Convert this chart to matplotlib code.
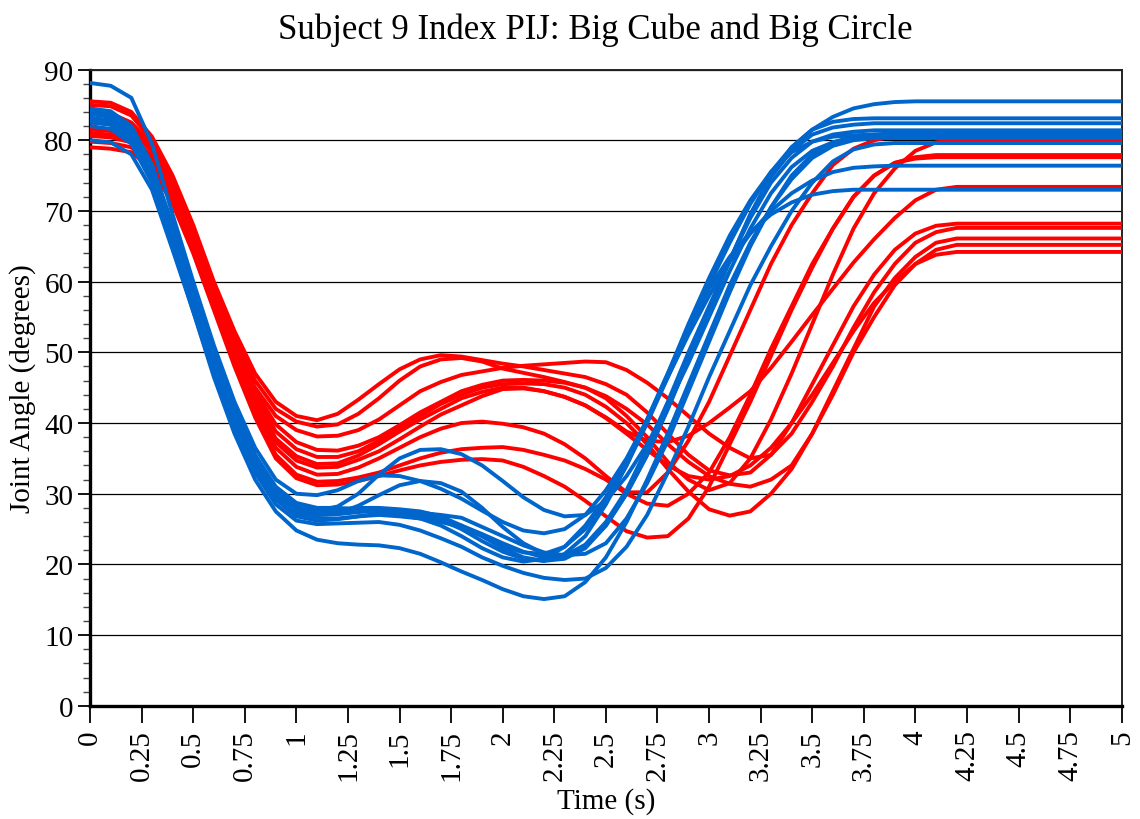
import matplotlib
matplotlib.use("Agg")
import matplotlib.pyplot as plt
from matplotlib.ticker import MultipleLocator

# ── data: joint angle (deg) every 0.1 s from 0 to 4.2 s, then the 5 s value ──
time_s = [0.0, 0.1, 0.2, 0.3, 0.4, 0.5, 0.6, 0.7, 0.8, 0.9,
          1.0, 1.1, 1.2, 1.3, 1.4, 1.5, 1.6, 1.7, 1.8, 1.9,
          2.0, 2.1, 2.2, 2.3, 2.4, 2.5, 2.6, 2.7, 2.8, 2.9,
          3.0, 3.1, 3.2, 3.3, 3.4, 3.5, 3.6, 3.7, 3.8, 3.9,
          4.0, 4.1, 4.2, 5.0]

# Big Cube trials (red)
cube_trials = [
    [85.5, 85.3, 84.0, 80.5, 75.0, 68.0, 60.0, 53.0, 47.0, 43.0,
     41.0, 40.4, 41.3, 43.3, 45.5, 47.6, 49.0, 49.6, 49.4, 48.9,
     48.4, 48.0, 47.5, 47.0, 46.5, 45.5, 44.0, 41.5, 38.5, 35.5,
     33.3, 32.6, 33.0, 35.5, 40.0, 45.5, 51.0, 56.5, 61.0, 64.5,
     66.8, 67.9, 68.2, 68.2],
    [85.0, 84.8, 83.5, 80.0, 74.5, 67.5, 59.5, 52.5, 46.0, 42.0,
     40.2, 39.5, 39.8, 41.3, 43.5, 46.0, 48.0, 49.0, 49.2, 48.7,
     47.7, 47.1, 46.5, 45.8, 45.0, 43.8, 42.0, 39.8, 37.0, 34.5,
     32.5, 31.4, 31.0, 32.0, 34.0, 38.5, 44.0, 50.0, 55.0, 59.5,
     62.5, 64.5, 65.2, 65.2],
    [84.0, 83.8, 82.5, 79.5, 74.0, 67.0, 59.0, 51.5, 45.0, 41.0,
     39.0, 38.1, 38.2, 39.0, 40.5, 42.5, 44.5, 45.8, 46.8, 47.3,
     47.8, 48.1, 48.3, 48.5, 48.7, 48.6, 47.5, 45.7, 43.5, 41.0,
     38.5, 36.5, 35.0, 35.5, 38.5, 43.0, 48.0, 53.5, 58.5, 62.5,
     65.5, 67.0, 67.6, 67.6],
    [83.0, 82.8, 81.8, 79.0, 73.5, 66.5, 58.5, 51.0, 44.5, 39.8,
     37.3, 36.2, 36.1, 36.8, 38.0, 39.7, 41.5, 43.0, 44.5, 45.4,
     46.0, 46.1, 46.0, 45.7, 45.0, 43.5, 41.0, 38.0, 34.5, 32.0,
     30.5, 31.5, 35.0, 40.5, 47.0, 54.0, 61.0, 67.5, 72.5, 76.0,
     78.5, 79.7, 80.0, 80.0],
    [82.5, 82.3, 81.3, 78.5, 73.0, 66.0, 58.0, 50.5, 43.8, 38.8,
     36.3, 35.2, 35.2, 36.0, 37.5, 39.2, 41.0, 42.7, 44.0, 45.0,
     45.5, 45.6, 45.5, 45.0, 44.0, 42.3, 40.0, 37.0, 33.5, 30.3,
     27.8, 26.9, 27.5, 30.0, 33.5, 38.5, 44.5, 50.5, 56.5, 60.5,
     63.5, 65.5, 66.1, 66.1],
    [81.5, 81.3, 80.5, 77.8, 72.5, 65.5, 57.5, 50.0, 43.0, 37.8,
     35.3, 34.2, 34.3, 35.4, 37.0, 38.8, 40.5, 42.0, 43.5, 44.4,
     45.0, 45.0, 44.5, 43.7, 42.5, 40.8, 38.8, 37.5, 37.3, 38.2,
     40.0, 42.2, 44.5, 47.8, 51.5, 55.3, 59.0, 62.7, 66.0, 69.0,
     71.5, 73.0, 73.4, 73.4],
    [80.6, 80.4, 79.7, 77.0, 72.0, 65.0, 57.0, 49.5, 42.5, 37.3,
     34.7, 33.7, 33.8, 34.8, 36.0, 37.7, 39.5, 41.2, 42.5, 43.8,
     44.8, 44.9, 44.5, 43.7, 42.5, 40.7, 38.5, 36.2, 34.0, 32.5,
     32.0, 32.5, 34.0, 36.5, 40.0, 44.0, 48.5, 53.0, 57.0, 60.0,
     62.5, 63.8, 64.2, 64.2],
    [81.0, 80.8, 80.0, 77.3, 72.0, 64.8, 56.8, 49.0, 42.0, 36.5,
     33.8, 32.7, 32.8, 33.7, 35.0, 36.5, 38.0, 39.2, 40.0, 40.2,
     39.9, 39.4, 38.5, 37.0, 35.0, 32.5, 30.2, 30.2, 33.0, 37.5,
     43.0, 49.5, 56.0, 62.5, 68.0, 72.5, 76.5, 78.8, 80.0, 80.6,
     80.8, 80.8, 80.8, 80.8],
    [79.8, 79.6, 79.0, 76.5, 71.5, 64.3, 56.3, 48.5, 41.3, 35.5,
     32.7, 31.7, 31.8, 32.3, 33.0, 34.0, 35.0, 35.8, 36.3, 36.5,
     36.6, 36.2, 35.5, 34.7, 33.5, 32.0, 30.0, 28.6, 28.3, 30.0,
     33.0, 38.0, 44.0, 50.5, 56.5, 62.5, 67.5, 72.0, 75.0, 76.8,
     77.6, 77.9, 77.9, 77.9],
    [79.0, 78.8, 78.3, 76.0, 71.0, 64.0, 56.0, 48.0, 40.8, 35.0,
     32.2, 31.2, 31.3, 31.8, 32.5, 33.3, 34.0, 34.5, 34.8, 34.9,
     34.7, 33.8, 32.5, 31.0, 29.0, 26.8, 24.7, 23.8, 24.0, 26.5,
     31.0, 37.0, 43.0, 49.5, 56.0, 62.0, 67.5, 72.0, 75.0, 76.8,
     77.4, 77.6, 77.6, 77.6],
]

# Big Circle trials (blue)
circle_trials = [
    [88.1, 87.7, 86.0, 79.5, 69.5, 60.0, 51.0, 43.0, 36.5, 32.0,
     30.0, 29.8, 30.5, 31.8, 32.6, 32.5, 31.8, 30.7, 29.3, 27.6,
     26.0, 24.8, 24.4, 25.0, 27.0, 30.5, 35.0, 40.5, 46.5, 53.0,
     59.5, 65.5, 71.0, 75.5, 79.0, 81.5, 83.3, 84.5, 85.1, 85.4,
     85.5, 85.5, 85.5, 85.5],
    [84.5, 84.1, 82.0, 76.5, 67.5, 58.5, 49.5, 41.5, 35.0, 30.5,
     28.2, 27.6, 28.2, 30.0, 32.7, 35.0, 36.2, 36.3, 35.6, 34.0,
     31.8, 29.5, 27.7, 26.8, 27.0, 29.0, 32.5, 37.0, 42.5, 48.5,
     55.0, 61.5, 67.5, 72.5, 76.2, 78.5, 79.7, 80.3, 80.5, 80.6,
     80.6, 80.6, 80.6, 80.6],
    [84.0, 83.6, 81.5, 76.0, 67.0, 58.0, 49.0, 41.0, 34.5, 30.0,
     27.7, 27.0, 27.2, 28.3, 29.8, 31.2, 31.8, 31.5, 30.3, 28.0,
     25.3, 23.0, 21.5, 21.3, 22.5, 25.5, 30.0, 35.5, 42.0, 49.0,
     56.0, 63.0, 69.5, 74.8, 78.5, 80.8, 81.8, 82.2, 82.4, 82.4,
     82.4, 82.4, 82.4, 82.4],
    [83.7, 83.3, 81.0, 75.5, 66.5, 57.5, 48.5, 40.5, 34.0, 29.8,
     27.5, 27.0, 27.1, 27.4, 27.6, 27.5, 27.0, 26.4, 25.5, 24.3,
     23.0, 21.8, 21.0, 21.2, 22.8, 26.0, 30.5, 36.5, 43.0, 50.0,
     56.5, 63.0, 69.0, 74.0, 77.5, 79.8, 80.8, 81.2, 81.4, 81.4,
     81.4, 81.4, 81.4, 81.4],
    [83.2, 82.8, 80.5, 75.0, 66.0, 57.0, 48.0, 40.0, 33.5, 29.2,
     26.8, 26.2, 26.4, 26.8, 27.2, 27.3, 27.3, 27.0, 26.6, 25.3,
     24.0, 22.7, 21.7, 21.3, 21.5, 23.0, 26.5, 31.5, 37.5, 44.5,
     51.5, 58.5, 65.0, 70.5, 75.0, 78.0, 79.7, 80.5, 80.8, 81.0,
     81.0, 81.0, 81.0, 81.0],
    [82.6, 82.2, 80.0, 74.8, 66.5, 57.8, 49.0, 41.0, 34.5, 30.3,
     28.0, 27.6, 27.8, 28.0, 28.0, 27.8, 27.5, 26.8, 25.5, 24.0,
     22.3, 21.0, 20.5, 20.8, 22.3, 25.5, 30.0, 35.5, 42.0, 49.0,
     56.0, 63.0, 69.5, 75.0, 79.0, 81.5, 82.6, 83.0, 83.1, 83.1,
     83.1, 83.1, 83.1, 83.1],
    [82.0, 81.6, 79.5, 74.0, 65.5, 56.5, 47.5, 39.5, 33.5, 29.3,
     27.0, 26.5, 26.5, 26.8, 27.0, 26.8, 26.5, 26.0, 25.3, 24.0,
     22.6, 21.7, 21.5, 22.5, 25.0, 29.0, 34.0, 40.0, 46.5, 52.5,
     58.0, 62.8, 66.8, 70.0, 72.5, 74.3, 75.5, 76.1, 76.3, 76.4,
     76.4, 76.4, 76.4, 76.4],
    [80.0, 79.7, 78.0, 73.0, 64.5, 55.8, 47.0, 39.5, 33.5, 29.5,
     27.3, 27.2, 27.5, 27.7, 27.8, 27.5, 27.0, 26.3, 25.0, 23.3,
     21.8, 20.8, 20.5, 21.5, 24.0, 28.5, 34.0, 40.5, 47.0, 53.5,
     59.0, 63.5, 67.0, 69.5, 71.2, 72.3, 72.8, 73.0, 73.0, 73.0,
     73.0, 73.0, 73.0, 73.0],
    [83.0, 82.6, 80.5, 74.8, 65.5, 56.5, 47.5, 39.5, 33.0, 28.5,
     26.2, 25.7, 25.8, 25.9, 26.0, 25.6, 24.8, 23.7, 22.5, 21.0,
     19.8, 18.8, 18.1, 17.8, 18.0, 19.5, 22.5, 27.0, 33.0, 39.5,
     46.5, 53.0, 59.5, 65.0, 70.0, 74.0, 77.0, 78.7, 79.4, 79.6,
     79.6, 79.6, 79.6, 79.6],
    [82.6, 82.2, 80.0, 74.3, 65.0, 55.8, 46.5, 38.5, 32.0, 27.5,
     24.8, 23.5, 23.0, 22.8, 22.7, 22.3, 21.5, 20.3, 19.0, 17.8,
     16.5, 15.5, 15.1, 15.5, 17.5, 21.0, 26.0, 32.0, 38.5, 45.5,
     52.5, 59.5, 65.5, 70.5, 74.5, 77.5, 79.2, 80.0, 80.3, 80.3,
     80.3, 80.3, 80.3, 80.3],
    [84.3, 83.9, 81.8, 76.5, 68.0, 59.0, 50.0, 42.0, 35.5, 31.0,
     28.7, 28.0, 28.0, 27.8, 27.5, 27.0, 26.5, 25.5, 24.0, 22.3,
     21.0, 20.4, 20.8, 22.5, 25.5, 29.5, 34.5, 40.5, 47.0, 54.0,
     60.5, 66.5, 71.5, 75.5, 78.3, 79.8, 80.5, 80.7, 80.8, 80.8,
     80.8, 80.8, 80.8, 80.8],
]

x_ticks = [0, 0.25, 0.5, 0.75, 1, 1.25, 1.5, 1.75, 2, 2.25, 2.5, 2.75,
           3, 3.25, 3.5, 3.75, 4, 4.25, 4.5, 4.75, 5]
x_tick_labels = ["0", "0.25", "0.5", "0.75", "1", "1.25", "1.5", "1.75", "2",
                 "2.25", "2.5", "2.75", "3", "3.25", "3.5", "3.75", "4",
                 "4.25", "4.5", "4.75", "5"]

# ── style ───────────────────────────────────────────────────────────────────
RED = "#FF0000"
BLUE = "#0066CC"
plt.rcParams["font.family"] = ["Liberation Serif", "DejaVu Serif"]

fig = plt.figure(figsize=(11.4, 8.2), dpi=100)
ax = fig.add_axes([0.079, 0.138, 0.905, 0.776])

for y in cube_trials:
    ax.plot(time_s, y, color=RED, lw=2.8, solid_capstyle="round",
            solid_joinstyle="round", zorder=3)
for y in circle_trials:
    ax.plot(time_s, y, color=BLUE, lw=2.8, solid_capstyle="round",
            solid_joinstyle="round", zorder=4)

ax.set_xlim(0, 5)
ax.set_ylim(0, 90)
ax.set_xticks(x_ticks)
ax.set_xticklabels(x_tick_labels, rotation=90)
ax.yaxis.set_major_locator(MultipleLocator(10))
ax.yaxis.set_minor_locator(MultipleLocator(2))

ax.grid(axis="y", which="major", color="black", lw=0.9, zorder=1)
ax.set_axisbelow(True)

ax.tick_params(axis="x", which="major", length=12, width=1.3, labelsize=21,
               pad=5, direction="out")
ax.tick_params(axis="y", which="major", length=9, width=1.3, labelsize=21,
               pad=3, direction="out")
ax.tick_params(axis="y", which="minor", length=5, width=1.0, direction="out",
               color="#444444")

for side in ("left", "bottom"):
    ax.spines[side].set_linewidth(2.4)
for side in ("top", "right"):
    ax.spines[side].set_linewidth(1.4)
    ax.spines[side].set_color("#222222")

fig.text(0.522, 0.963, "Subject 9 Index PIJ: Big Cube and Big Circle",
         fontsize=25, ha="center", va="center")
ax.set_xlabel("Time (s)", fontsize=21, labelpad=5)
ax.set_ylabel("Joint Angle (degrees)", fontsize=21, labelpad=6)

fig.savefig("out.png", dpi=100, facecolor="white")
